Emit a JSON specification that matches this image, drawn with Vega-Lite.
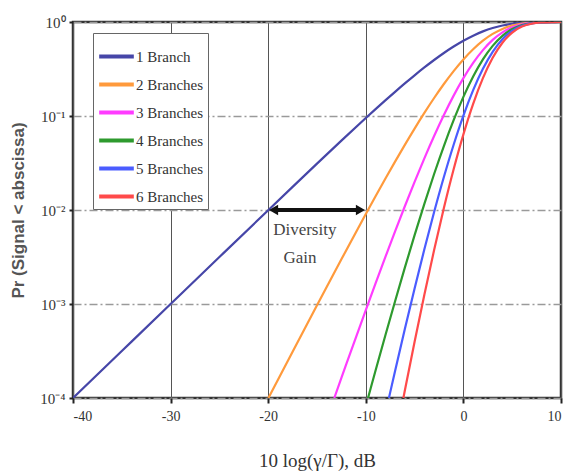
{
  "$schema": "https://vega.github.io/schema/vega-lite/v6.json",
  "width": 488,
  "height": 376,
  "autosize": "none",
  "padding": {"left": 73, "top": 22, "right": 10, "bottom": 74},
  "background": "white",
  "config": {
    "view": {"stroke": "#333", "strokeWidth": 2.5}
  },
  "datasets": {
    "curves": [
      {"db": -40, "p": 0.0001, "s": "1 Branch"},
      {"db": -35, "p": 0.00031618, "s": "1 Branch"},
      {"db": -30, "p": 0.0009995, "s": "1 Branch"},
      {"db": -25, "p": 0.0031573, "s": "1 Branch"},
      {"db": -20, "p": 0.0099502, "s": "1 Branch"},
      {"db": -17.5, "p": 0.017626, "s": "1 Branch"},
      {"db": -15, "p": 0.031128, "s": "1 Branch"},
      {"db": -12.5, "p": 0.054682, "s": "1 Branch"},
      {"db": -10, "p": 0.095163, "s": "1 Branch"},
      {"db": -9, "p": 0.11829, "s": "1 Branch"},
      {"db": -8, "p": 0.14657, "s": "1 Branch"},
      {"db": -7, "p": 0.18089, "s": "1 Branch"},
      {"db": -6, "p": 0.22213, "s": "1 Branch"},
      {"db": -5, "p": 0.27111, "s": "1 Branch"},
      {"db": -4, "p": 0.32841, "s": "1 Branch"},
      {"db": -3, "p": 0.39419, "s": "1 Branch"},
      {"db": -2, "p": 0.46792, "s": "1 Branch"},
      {"db": -1, "p": 0.54812, "s": "1 Branch"},
      {"db": 0, "p": 0.63212, "s": "1 Branch"},
      {"db": 1, "p": 0.71603, "s": "1 Branch"},
      {"db": 2, "p": 0.79503, "s": "1 Branch"},
      {"db": 3, "p": 0.86403, "s": "1 Branch"},
      {"db": 4, "p": 0.91889, "s": "1 Branch"},
      {"db": 5, "p": 0.95767, "s": "1 Branch"},
      {"db": 6, "p": 0.98134, "s": "1 Branch"},
      {"db": 7, "p": 0.99334, "s": "1 Branch"},
      {"db": 8, "p": 0.99818, "s": "1 Branch"},
      {"db": 9, "p": 0.99965, "s": "1 Branch"},
      {"db": 10, "p": 0.99995, "s": "1 Branch"},

      {"db": -19.978, "p": 0.0001, "s": "2 Branches"},
      {"db": -17.5, "p": 0.00031068, "s": "2 Branches"},
      {"db": -15, "p": 0.00096895, "s": "2 Branches"},
      {"db": -12.5, "p": 0.0029901, "s": "2 Branches"},
      {"db": -10, "p": 0.009056, "s": "2 Branches"},
      {"db": -9, "p": 0.013993, "s": "2 Branches"},
      {"db": -8, "p": 0.021483, "s": "2 Branches"},
      {"db": -7, "p": 0.032721, "s": "2 Branches"},
      {"db": -6, "p": 0.049342, "s": "2 Branches"},
      {"db": -5, "p": 0.073501, "s": "2 Branches"},
      {"db": -4, "p": 0.10785, "s": "2 Branches"},
      {"db": -3, "p": 0.15539, "s": "2 Branches"},
      {"db": -2, "p": 0.21895, "s": "2 Branches"},
      {"db": -1, "p": 0.30044, "s": "2 Branches"},
      {"db": 0, "p": 0.39958, "s": "2 Branches"},
      {"db": 1, "p": 0.5127, "s": "2 Branches"},
      {"db": 2, "p": 0.63207, "s": "2 Branches"},
      {"db": 3, "p": 0.74655, "s": "2 Branches"},
      {"db": 4, "p": 0.84436, "s": "2 Branches"},
      {"db": 5, "p": 0.91713, "s": "2 Branches"},
      {"db": 6, "p": 0.96303, "s": "2 Branches"},
      {"db": 7, "p": 0.98672, "s": "2 Branches"},
      {"db": 8, "p": 0.99636, "s": "2 Branches"},
      {"db": 9, "p": 0.9993, "s": "2 Branches"},
      {"db": 10, "p": 0.9999, "s": "2 Branches"},

      {"db": -13.23, "p": 0.0001, "s": "3 Branches"},
      {"db": -12.5, "p": 0.0001635, "s": "3 Branches"},
      {"db": -12, "p": 0.00022863, "s": "3 Branches"},
      {"db": -11, "p": 0.00044524, "s": "3 Branches"},
      {"db": -10, "p": 0.0008618, "s": "3 Branches"},
      {"db": -9, "p": 0.0016552, "s": "3 Branches"},
      {"db": -8, "p": 0.0031488, "s": "3 Branches"},
      {"db": -7, "p": 0.0059189, "s": "3 Branches"},
      {"db": -6, "p": 0.01096, "s": "3 Branches"},
      {"db": -5, "p": 0.019927, "s": "3 Branches"},
      {"db": -4, "p": 0.035419, "s": "3 Branches"},
      {"db": -3, "p": 0.061253, "s": "3 Branches"},
      {"db": -2, "p": 0.10245, "s": "3 Branches"},
      {"db": -1, "p": 0.16468, "s": "3 Branches"},
      {"db": 0, "p": 0.25258, "s": "3 Branches"},
      {"db": 1, "p": 0.36711, "s": "3 Branches"},
      {"db": 2, "p": 0.50251, "s": "3 Branches"},
      {"db": 3, "p": 0.64504, "s": "3 Branches"},
      {"db": 4, "p": 0.77587, "s": "3 Branches"},
      {"db": 5, "p": 0.87831, "s": "3 Branches"},
      {"db": 6, "p": 0.94506, "s": "3 Branches"},
      {"db": 7, "p": 0.98015, "s": "3 Branches"},
      {"db": 8, "p": 0.99455, "s": "3 Branches"},
      {"db": 9, "p": 0.99895, "s": "3 Branches"},
      {"db": 10, "p": 0.99985, "s": "3 Branches"},

      {"db": -9.773, "p": 0.0001, "s": "4 Branches"},
      {"db": -9.5, "p": 0.00012689, "s": "4 Branches"},
      {"db": -9, "p": 0.0001958, "s": "4 Branches"},
      {"db": -8, "p": 0.00046152, "s": "4 Branches"},
      {"db": -7, "p": 0.0010707, "s": "4 Branches"},
      {"db": -6, "p": 0.0024346, "s": "4 Branches"},
      {"db": -5, "p": 0.0054024, "s": "4 Branches"},
      {"db": -4, "p": 0.011632, "s": "4 Branches"},
      {"db": -3, "p": 0.024146, "s": "4 Branches"},
      {"db": -2, "p": 0.047939, "s": "4 Branches"},
      {"db": -1, "p": 0.090264, "s": "4 Branches"},
      {"db": 0, "p": 0.15966, "s": "4 Branches"},
      {"db": 1, "p": 0.26286, "s": "4 Branches"},
      {"db": 2, "p": 0.39951, "s": "4 Branches"},
      {"db": 3, "p": 0.55734, "s": "4 Branches"},
      {"db": 4, "p": 0.71294, "s": "4 Branches"},
      {"db": 5, "p": 0.84113, "s": "4 Branches"},
      {"db": 6, "p": 0.92743, "s": "4 Branches"},
      {"db": 7, "p": 0.97362, "s": "4 Branches"},
      {"db": 8, "p": 0.99273, "s": "4 Branches"},
      {"db": 9, "p": 0.9986, "s": "4 Branches"},
      {"db": 10, "p": 0.9998, "s": "4 Branches"},

      {"db": -7.63, "p": 0.0001, "s": "5 Branches"},
      {"db": -7.5, "p": 0.00011477, "s": "5 Branches"},
      {"db": -7, "p": 0.00019368, "s": "5 Branches"},
      {"db": -6, "p": 0.0005408, "s": "5 Branches"},
      {"db": -5, "p": 0.0014646, "s": "5 Branches"},
      {"db": -4, "p": 0.0038201, "s": "5 Branches"},
      {"db": -3, "p": 0.0095181, "s": "5 Branches"},
      {"db": -2, "p": 0.022432, "s": "5 Branches"},
      {"db": -1, "p": 0.049476, "s": "5 Branches"},
      {"db": 0, "p": 0.10092, "s": "5 Branches"},
      {"db": 1, "p": 0.18822, "s": "5 Branches"},
      {"db": 2, "p": 0.31762, "s": "5 Branches"},
      {"db": 3, "p": 0.48156, "s": "5 Branches"},
      {"db": 4, "p": 0.65511, "s": "5 Branches"},
      {"db": 5, "p": 0.80553, "s": "5 Branches"},
      {"db": 6, "p": 0.91012, "s": "5 Branches"},
      {"db": 7, "p": 0.96714, "s": "5 Branches"},
      {"db": 8, "p": 0.99092, "s": "5 Branches"},
      {"db": 9, "p": 0.99825, "s": "5 Branches"},
      {"db": 10, "p": 0.99975, "s": "5 Branches"},

      {"db": -6.15, "p": 0.0001, "s": "6 Branches"},
      {"db": -6, "p": 0.00012013, "s": "6 Branches"},
      {"db": -5, "p": 0.00039707, "s": "6 Branches"},
      {"db": -4, "p": 0.0012546, "s": "6 Branches"},
      {"db": -3, "p": 0.0037519, "s": "6 Branches"},
      {"db": -2, "p": 0.010496, "s": "6 Branches"},
      {"db": -1, "p": 0.027119, "s": "6 Branches"},
      {"db": 0, "p": 0.063794, "s": "6 Branches"},
      {"db": 1, "p": 0.13477, "s": "6 Branches"},
      {"db": 2, "p": 0.25252, "s": "6 Branches"},
      {"db": 3, "p": 0.41608, "s": "6 Branches"},
      {"db": 4, "p": 0.60197, "s": "6 Branches"},
      {"db": 5, "p": 0.77143, "s": "6 Branches"},
      {"db": 6, "p": 0.89314, "s": "6 Branches"},
      {"db": 7, "p": 0.9607, "s": "6 Branches"},
      {"db": 8, "p": 0.98912, "s": "6 Branches"},
      {"db": 9, "p": 0.9979, "s": "6 Branches"},
      {"db": 10, "p": 0.9997, "s": "6 Branches"}
    ],
    "arrow": [{"x1": -19.5, "x2": -10.5, "y": 0.01}],
    "headL": [{"x": -19.45, "y": 0.01}],
    "headR": [{"x": -10.55, "y": 0.01}],
    "labels": [
      {"x": -16.25, "y": 0.0061, "t": "Diversity"},
      {"x": -16.75, "y": 0.0031, "t": "Gain"}
    ]
  },
  "layer": [
    {
      "data": {"name": "curves"},
      "mark": {"type": "line", "strokeWidth": 2.2, "interpolate": "monotone", "clip": true},
      "encoding": {
        "x": {
          "field": "db", "type": "quantitative",
          "scale": {"domain": [-40, 10], "nice": false, "zero": false},
          "axis": {
            "values": [-40, -30, -20, -10, 0, 10],
            "title": "10 log(γ/Γ), dB",
            "titleFont": "Liberation Serif", "titleFontSize": 19, "titleFontWeight": "normal", "titleColor": "#333",
            "titleX": 244, "titleY": 62, "titleBaseline": "middle", "titleAlign": "center",
            "labelFont": "Liberation Serif", "labelFontSize": 14, "labelColor": "#333", "labelPadding": 6,
            "labelExpr": "replace(datum.label, '−', '-')",
            "domain": false, "ticks": true, "tickSize": 5, "tickColor": "#222", "tickWidth": 2,
            "grid": true, "gridColor": "#555", "gridWidth": 1
          }
        },
        "y": {
          "field": "p", "type": "quantitative",
          "scale": {"type": "log", "domain": [0.0001, 1], "nice": false},
          "axis": {
            "values": [1, 0.1, 0.01, 0.001, 0.0001],
            "labelExpr": "'10' + ['⁰','⁻¹','⁻²','⁻³','⁻⁴'][round(-log(datum.value)/LN10)]",
            "title": "Pr (Signal < abscissa)",
            "titleFont": "Liberation Sans", "titleFontSize": 17, "titleFontWeight": "bold", "titleColor": "#555",
            "titleX": -55, "titleY": 188, "titleBaseline": "middle", "titleAlign": "center", "titleAngle": -90,
            "labelFont": "Liberation Serif", "labelFontSize": 15, "labelColor": "#333", "labelPadding": 4,
            "domain": false, "ticks": true, "tickSize": 4, "tickColor": "#222", "tickWidth": 2,
            "grid": true, "gridColor": "#9a9a9a", "gridWidth": 1.5, "gridDash": [8, 3, 2, 3]
          }
        },
        "color": {
          "field": "s", "type": "nominal",
          "scale": {
            "domain": ["1 Branch", "2 Branches", "3 Branches", "4 Branches", "5 Branches", "6 Branches"],
            "range": ["#4646a8", "#ff9a3c", "#ff3cff", "#2e9a2e", "#4a5cff", "#ff4a4a"]
          },
          "legend": {
            "title": null,
            "orient": "none", "legendX": 20, "legendY": 11,
            "strokeColor": "#666", "fillColor": "white", "padding": 4,
            "symbolType": "stroke", "symbolSize": 1200, "symbolStrokeWidth": 4,
            "labelFont": "Liberation Serif", "labelFontSize": 15, "labelColor": "#333",
            "labelOffset": 0, "rowPadding": 0
          }
        }
      }
    },
    {
      "data": {"name": "arrow"},
      "mark": {"type": "rule", "color": "#111", "strokeWidth": 4},
      "encoding": {
        "x": {"field": "x1", "type": "quantitative"},
        "x2": {"field": "x2"},
        "y": {"field": "y", "type": "quantitative"}
      }
    },
    {
      "data": {"name": "headL"},
      "mark": {"type": "point", "shape": "triangle-left", "filled": true, "color": "#111", "size": 110, "opacity": 1},
      "encoding": {
        "x": {"field": "x", "type": "quantitative"},
        "y": {"field": "y", "type": "quantitative"}
      }
    },
    {
      "data": {"name": "headR"},
      "mark": {"type": "point", "shape": "triangle-right", "filled": true, "color": "#111", "size": 110, "opacity": 1},
      "encoding": {
        "x": {"field": "x", "type": "quantitative"},
        "y": {"field": "y", "type": "quantitative"}
      }
    },
    {
      "data": {"name": "labels"},
      "mark": {"type": "text", "font": "Liberation Serif", "fontSize": 17, "color": "#444", "align": "center", "baseline": "middle"},
      "encoding": {
        "x": {"field": "x", "type": "quantitative"},
        "y": {"field": "y", "type": "quantitative"},
        "text": {"field": "t"}
      }
    }
  ]
}
